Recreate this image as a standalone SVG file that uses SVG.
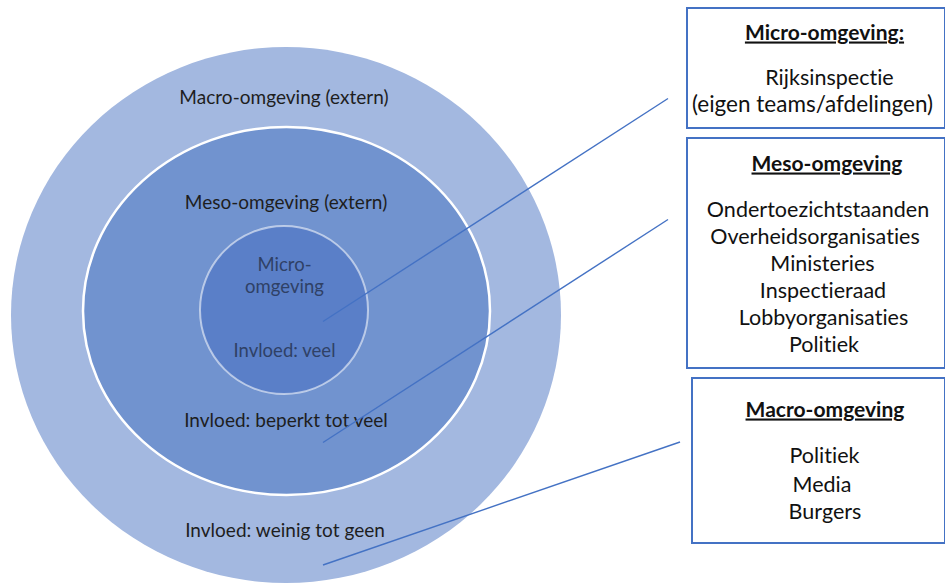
<svg xmlns="http://www.w3.org/2000/svg" width="945" height="583" viewBox="0 0 945 583">
  <style>
    .t { font-family: Lato, "Liberation Sans", sans-serif; fill: #1e1e1e; text-anchor: middle; font-variant-ligatures: none; font-feature-settings: "liga" 0, "clig" 0, "dlig" 0; letter-spacing: 0.02px; }
    .ring { font-size: 19px; }
    .core { font-size: 18.5px; fill: #2f4166; }
    .box { fill: #ffffff; stroke: #4472c4; stroke-width: 2; }
    .bt { font-size: 21.5px; fill: #111111; }
    .wide { font-size: 22.5px; }
    .hd { font-size: 21px; font-weight: bold; text-decoration: underline; fill: #111111; }
    .link { stroke: #4472c4; stroke-width: 1.4; fill: none; }
  </style>

  <!-- concentric environments -->
  <g id="macro">
    <ellipse cx="286" cy="315" rx="275" ry="268" fill="#a3b8e0"/>
    <text class="t ring" x="284" y="104">Macro-omgeving (extern)</text>
    <text class="t ring" x="285" y="537">Invloed: weinig tot geen</text>
  </g>
  <g id="meso">
    <ellipse cx="286.5" cy="311" rx="203.5" ry="184" fill="#7193cf" stroke="#ffffff" stroke-width="2.5"/>
    <text class="t ring" x="286" y="209">Meso-omgeving (extern)</text>
    <text class="t ring" x="286" y="427">Invloed: beperkt tot veel</text>
  </g>
  <g id="micro">
    <circle cx="284" cy="310" r="84" fill="#5a7fc8" stroke="#ffffff" stroke-opacity="0.55" stroke-width="2"/>
    <text class="t core" x="284.5" y="271">Micro-</text>
    <text class="t core" x="284.5" y="293">omgeving</text>
    <text class="t core" x="284.5" y="357">Invloed: veel</text>
  </g>

  <!-- leader lines from rings to description boxes -->
  <g id="connectors">
    <line class="link" x1="323" y1="321.5" x2="668" y2="98.5"/>
    <line class="link" x1="323" y1="442.5" x2="668" y2="219.5"/>
    <line class="link" x1="323" y1="565" x2="680" y2="442"/>
  </g>

  <!-- description boxes -->
  <g id="box-micro">
    <rect class="box" x="687" y="8" width="258" height="120"/>
    <text class="t hd" x="824.5" y="39.5">Micro-omgeving:</text>
    <text class="t bt" x="829.5" y="85">Rijksinspectie</text>
    <text class="t bt wide" x="812.5" y="111.5">(eigen teams/afdelingen)</text>
  </g>
  <g id="box-meso">
    <rect class="box" x="687" y="138" width="258" height="230"/>
    <text class="t hd" x="827" y="170.5">Meso-omgeving</text>
    <text class="t bt" x="818" y="217.3">Ondertoezichtstaanden</text>
    <text class="t bt" x="815" y="244.2">Overheidsorganisaties</text>
    <text class="t bt" x="822.5" y="271.1">Ministeries</text>
    <text class="t bt" x="823" y="298">Inspectieraad</text>
    <text class="t bt" x="823.5" y="324.9">Lobbyorganisaties</text>
    <text class="t bt" x="824" y="351.8">Politiek</text>
  </g>
  <g id="box-macro">
    <rect class="box" x="692" y="378" width="253" height="165"/>
    <text class="t hd" x="825" y="416.5">Macro-omgeving</text>
    <text class="t bt" x="824.5" y="463.3">Politiek</text>
    <text class="t bt" x="822" y="491.7">Media</text>
    <text class="t bt" x="825" y="519.3">Burgers</text>
  </g>
</svg>
